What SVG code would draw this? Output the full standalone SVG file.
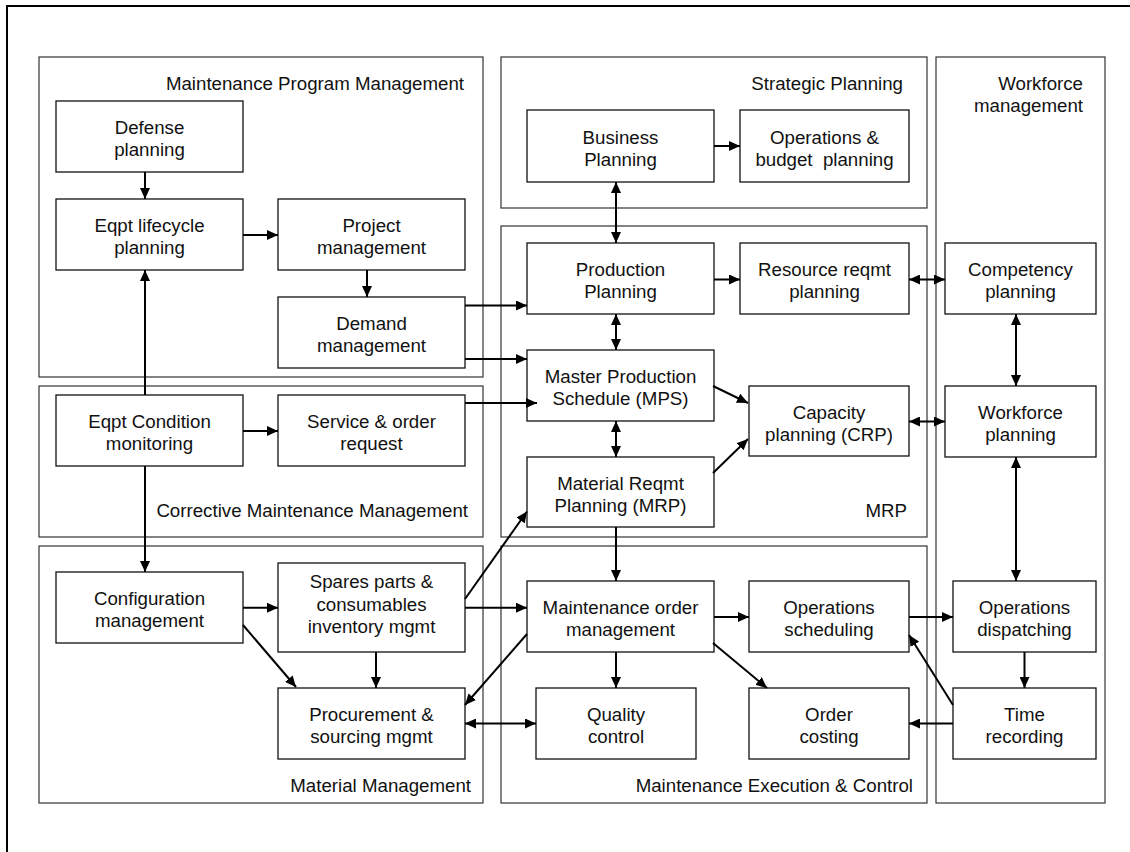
<svg xmlns="http://www.w3.org/2000/svg" width="1130" height="852" viewBox="0 0 1130 852">
<style>
.frame{fill:none;stroke:#000;stroke-width:2}
.cont{fill:none;stroke:#333;stroke-width:1.2}
.box{fill:#fff;stroke:#111;stroke-width:1.3}
text{font-family:"Liberation Sans",Arial,sans-serif;font-size:18.7px;fill:#111}
.c{text-anchor:middle}
.r{text-anchor:end}
.cn path{fill:none;stroke:#000;stroke-width:2}
.one{marker-end:url(#ah)}
.two{marker-end:url(#ah);marker-start:url(#ah)}
</style>
<defs>
<marker id="ah" viewBox="0 0 11 10" refX="11" refY="5" markerWidth="11" markerHeight="10" markerUnits="userSpaceOnUse" orient="auto-start-reverse">
<path d="M0,0 L11,5 L0,10 z" fill="#000"/>
</marker>
</defs>
<rect width="1130" height="852" fill="#fff"/>
<path class="frame" d="M7,852 V6 H1130"/>

<g id="containers">
<g id="c-mpm"><rect class="cont" x="39" y="57" width="444" height="320"/><text class="r" x="464" y="90">Maintenance Program Management</text></g>
<g id="c-cmm"><rect class="cont" x="39" y="386" width="444" height="151"/><text class="r" x="468" y="517">Corrective Maintenance Management</text></g>
<g id="c-mm"><rect class="cont" x="39" y="546" width="444" height="257"/><text class="r" x="471" y="792">Material Management</text></g>
<g id="c-sp"><rect class="cont" x="501" y="57" width="426" height="151"/><text class="r" x="903" y="90">Strategic Planning</text></g>
<g id="c-mrp"><rect class="cont" x="501" y="226" width="426" height="311"/><text class="r" x="907" y="517">MRP</text></g>
<g id="c-mec"><rect class="cont" x="501" y="546" width="426" height="257"/><text class="r" x="913" y="792">Maintenance Execution &amp; Control</text></g>
<g id="c-wm"><rect class="cont" x="936" y="57" width="169" height="746"/><text class="r" x="1083" y="90">Workforce</text><text class="r" x="1083" y="112">management</text></g>
</g>

<g id="n-defense"><rect class="box" x="56" y="101" width="187" height="71"/><text class="c" x="149.5" y="134.2">Defense</text><text class="c" x="149.5" y="156.2">planning</text></g>
<g id="n-eqptlife"><rect class="box" x="56" y="199" width="187" height="71"/><text class="c" x="149.5" y="232.2">Eqpt lifecycle</text><text class="c" x="149.5" y="254.2">planning</text></g>
<g id="n-project"><rect class="box" x="278" y="199" width="187" height="71"/><text class="c" x="371.5" y="232.2">Project</text><text class="c" x="371.5" y="254.2">management</text></g>
<g id="n-demand"><rect class="box" x="278" y="297" width="187" height="71"/><text class="c" x="371.5" y="330.2">Demand</text><text class="c" x="371.5" y="352.2">management</text></g>
<g id="n-eqptcond"><rect class="box" x="56" y="395" width="187" height="71"/><text class="c" x="149.5" y="428.2">Eqpt Condition</text><text class="c" x="149.5" y="450.2">monitoring</text></g>
<g id="n-service"><rect class="box" x="278" y="395" width="187" height="71"/><text class="c" x="371.5" y="428.2">Service &amp; order</text><text class="c" x="371.5" y="450.2">request</text></g>
<g id="n-config"><rect class="box" x="56" y="572" width="187" height="71"/><text class="c" x="149.5" y="605.2">Configuration</text><text class="c" x="149.5" y="627.2">management</text></g>
<g id="n-spares"><rect class="box" x="278" y="563" width="187" height="89"/><text class="c" x="371.5" y="588.3">Spares parts &amp;</text><text class="c" x="371.5" y="610.5">consumables</text><text class="c" x="371.5" y="632.7">inventory mgmt</text></g>
<g id="n-procure"><rect class="box" x="278" y="688" width="187" height="71"/><text class="c" x="371.5" y="721.2">Procurement &amp;</text><text class="c" x="371.5" y="743.2">sourcing mgmt</text></g>
<g id="n-business"><rect class="box" x="527" y="110" width="187" height="72"/><text class="c" x="620.5" y="143.7">Business</text><text class="c" x="620.5" y="165.7">Planning</text></g>
<g id="n-opsbudget"><rect class="box" x="740" y="110" width="169" height="72"/><text class="c" x="824.5" y="143.7">Operations &amp;</text><text class="c" x="824.5" y="165.7" xml:space="preserve" style="white-space:pre">budget  planning</text></g>
<g id="n-prodplan"><rect class="box" x="527" y="243" width="187" height="71"/><text class="c" x="620.5" y="276.2">Production</text><text class="c" x="620.5" y="298.2">Planning</text></g>
<g id="n-resource"><rect class="box" x="740" y="243" width="169" height="71"/><text class="c" x="824.5" y="276.2">Resource reqmt</text><text class="c" x="824.5" y="298.2">planning</text></g>
<g id="n-mps"><rect class="box" x="527" y="350" width="187" height="71"/><text class="c" x="620.5" y="383.2">Master Production</text><text class="c" x="620.5" y="405.2">Schedule (MPS)</text></g>
<g id="n-capacity"><rect class="box" x="749" y="386" width="160" height="70"/><text class="c" x="829" y="418.7">Capacity</text><text class="c" x="829" y="440.7">planning (CRP)</text></g>
<g id="n-mrp"><rect class="box" x="527" y="457" width="187" height="70"/><text class="c" x="620.5" y="489.7">Material Reqmt</text><text class="c" x="620.5" y="511.7">Planning (MRP)</text></g>
<g id="n-maintorder"><rect class="box" x="527" y="581" width="187" height="71"/><text class="c" x="620.5" y="614.2">Maintenance order</text><text class="c" x="620.5" y="636.2">management</text></g>
<g id="n-opsched"><rect class="box" x="749" y="581" width="160" height="71"/><text class="c" x="829" y="614.2">Operations</text><text class="c" x="829" y="636.2">scheduling</text></g>
<g id="n-quality"><rect class="box" x="536" y="688" width="160" height="71"/><text class="c" x="616" y="721.2">Quality</text><text class="c" x="616" y="743.2">control</text></g>
<g id="n-costing"><rect class="box" x="749" y="688" width="160" height="71"/><text class="c" x="829" y="721.2">Order</text><text class="c" x="829" y="743.2">costing</text></g>
<g id="n-competency"><rect class="box" x="945" y="243" width="151" height="71"/><text class="c" x="1020.5" y="276.2">Competency</text><text class="c" x="1020.5" y="298.2">planning</text></g>
<g id="n-wfplan"><rect class="box" x="945" y="386" width="151" height="71"/><text class="c" x="1020.5" y="419.2">Workforce</text><text class="c" x="1020.5" y="441.2">planning</text></g>
<g id="n-opsdisp"><rect class="box" x="953" y="581" width="143" height="71"/><text class="c" x="1024.5" y="614.2">Operations</text><text class="c" x="1024.5" y="636.2">dispatching</text></g>
<g id="n-timerec"><rect class="box" x="953" y="688" width="143" height="71"/><text class="c" x="1024.5" y="721.2">Time</text><text class="c" x="1024.5" y="743.2">recording</text></g>

<g id="connectors" class="cn">
<path class="one" d="M145,172 V199"/>
<path class="one" d="M243,235 H278"/>
<path class="one" d="M367,270 V297"/>
<path class="one" d="M145,395 V270"/>
<path class="one" d="M145,466 V572"/>
<path class="one" d="M243,431 H278"/>
<path class="one" d="M465,305.5 H527"/>
<path class="one" d="M465,359 H527"/>
<path class="one" d="M465,403 H537"/>
<path class="one" d="M714,146 H740"/>
<path class="two" d="M616,182 V243"/>
<path class="one" d="M714,279.5 H740"/>
<path class="two" d="M909,279.5 H945"/>
<path class="two" d="M616,314 V350"/>
<path class="two" d="M616,421 V457"/>
<path class="one" d="M713,386 L748,403"/>
<path class="one" d="M713,473 L748,439"/>
<path class="two" d="M909,421.5 H945"/>
<path class="two" d="M1016,314 V386"/>
<path class="two" d="M1016,457 V581"/>
<path class="one" d="M465,599 L527,511.5"/>
<path class="one" d="M465,607.7 H527"/>
<path class="one" d="M376,652 V688"/>
<path class="one" d="M243,607.7 H278"/>
<path class="one" d="M243,625 L296,687"/>
<path class="one" d="M527,634 L465,705"/>
<path class="two" d="M465,723.5 H536"/>
<path class="one" d="M616,527 V581"/>
<path class="one" d="M714,617 H749"/>
<path class="one" d="M616,652 V688"/>
<path class="one" d="M713,643 L767,688"/>
<path class="one" d="M909,617 H953"/>
<path class="one" d="M953,705 L909,635"/>
<path class="one" d="M953,723.5 H909"/>
<path class="one" d="M1024.5,652 V688"/>
</g>
</svg>
